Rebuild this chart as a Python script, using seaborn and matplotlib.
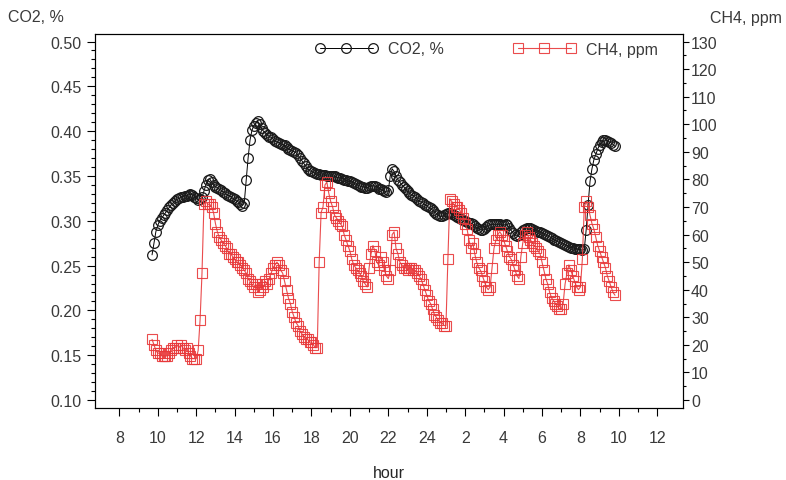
import numpy as np
import pandas as pd
import matplotlib
matplotlib.use('Agg')
import matplotlib.pyplot as plt
from matplotlib.ticker import MultipleLocator
import seaborn as sns

# sampling times (continuous hours, 24 = midnight, 26 = 2 am next day)
hours = np.round(np.arange(9.7, 33.85, 0.1), 1)

# CO2, % (one row per hour)
co2 = [
    0.262, 0.275, 0.288,
    0.295, 0.300, 0.303, 0.306, 0.309, 0.312, 0.315, 0.318, 0.320, 0.322,
    0.324, 0.325, 0.326, 0.327, 0.328, 0.328, 0.329, 0.330, 0.329, 0.327,
    0.325, 0.323, 0.324, 0.326, 0.333, 0.340, 0.346, 0.347, 0.343, 0.340,
    0.338, 0.337, 0.335, 0.334, 0.332, 0.331, 0.329, 0.328, 0.327, 0.325,
    0.324, 0.322, 0.321, 0.319, 0.317, 0.320, 0.345, 0.370, 0.390, 0.401,
    0.406, 0.409, 0.411, 0.408, 0.403, 0.400, 0.398, 0.396, 0.394, 0.393,
    0.391, 0.389, 0.388, 0.387, 0.386, 0.385, 0.384, 0.382, 0.380, 0.379,
    0.378, 0.377, 0.376, 0.373, 0.370, 0.367, 0.364, 0.361, 0.358, 0.356,
    0.355, 0.354, 0.353, 0.352, 0.352, 0.351, 0.351, 0.351, 0.350, 0.350,
    0.350, 0.350, 0.350, 0.349, 0.348, 0.348, 0.347, 0.346, 0.345, 0.344,
    0.344, 0.343, 0.342, 0.341, 0.340, 0.339, 0.338, 0.338, 0.337, 0.337,
    0.338, 0.339, 0.339, 0.339, 0.338, 0.336, 0.335, 0.334, 0.333, 0.332,
    0.334, 0.350, 0.358, 0.355, 0.350, 0.346, 0.343, 0.340, 0.338, 0.335,
    0.333, 0.331, 0.329, 0.328, 0.326, 0.324, 0.322, 0.321, 0.320, 0.318,
    0.317, 0.315, 0.314, 0.312, 0.310, 0.308, 0.306, 0.305, 0.305, 0.306,
    0.308, 0.309, 0.309, 0.308, 0.306, 0.305, 0.304, 0.303, 0.302, 0.301,
    0.300, 0.299, 0.298, 0.297, 0.296, 0.294, 0.292, 0.291, 0.290, 0.290,
    0.291, 0.293, 0.295, 0.296, 0.296, 0.296, 0.296, 0.296, 0.296, 0.295,
    0.295, 0.296, 0.295, 0.292, 0.289, 0.286, 0.284, 0.283, 0.284, 0.287,
    0.290, 0.291, 0.292, 0.292, 0.292, 0.291, 0.290, 0.289, 0.288, 0.287,
    0.286, 0.285, 0.284, 0.283, 0.282, 0.281, 0.279, 0.278, 0.277, 0.276,
    0.275, 0.274, 0.273, 0.272, 0.271, 0.270, 0.270, 0.269, 0.269, 0.268,
    0.268, 0.267, 0.268, 0.290, 0.318, 0.344, 0.358, 0.368, 0.374, 0.380,
    0.385, 0.388, 0.390, 0.390, 0.389, 0.388, 0.387, 0.385, 0.383,
]

# CH4, ppm
ch4 = [
    22, 20, 18,
    17, 17, 16, 16, 16, 16, 17, 18, 19, 19,
    20, 19, 20, 19, 18, 19, 17, 16, 15, 15,
    15, 18, 29, 46, 71, 72, 71, 71, 70, 68,
    64, 61, 59, 58, 57, 56, 55, 53, 53, 52,
    51, 50, 50, 49, 48, 47, 46, 44, 43, 42,
    41, 42, 39, 40, 42, 41, 43, 42, 44, 46,
    48, 49, 50, 49, 47, 46, 43, 40, 37, 35,
    32, 30, 28, 27, 25, 24, 23, 22, 22, 21,
    21, 20, 19, 19, 50, 68, 70, 78, 79, 75,
    72, 70, 67, 66, 65, 64, 63, 60, 58, 56,
    54, 51, 49, 48, 47, 46, 45, 43, 42, 41,
    48, 53, 56, 54, 50, 49, 52, 50, 47, 45,
    44, 47, 60, 61, 55, 53, 50, 49, 48, 48,
    47, 48, 48, 47, 47, 46, 45, 44, 42, 40,
    38, 36, 35, 33, 31, 30, 29, 28, 28, 27,
    27, 51, 73, 72, 71, 70, 70, 69, 68, 66,
    64, 62, 58, 55, 57, 53, 50, 48, 47, 45,
    43, 41, 40, 41, 48, 55, 58, 60, 61, 60,
    58, 56, 54, 52, 51, 49, 47, 45, 44, 52,
    57, 60, 61, 59, 58, 57, 56, 55, 54, 53,
    50, 47, 44, 42, 39, 37, 36, 35, 34, 33,
    33, 35, 42, 46, 49, 47, 45, 43, 41, 40,
    41, 51, 70, 72, 70, 67, 64, 62, 59, 56,
    54, 52, 50, 48, 45, 43, 41, 39, 38,
]

df = pd.DataFrame({'hour': hours, 'co2': co2, 'ch4': ch4})

xticks = list(range(8, 37, 2))
xticklabels = [str(h if h <= 24 else h - 24) for h in xticks]

sns.set_style('ticks')
plt.rcParams['font.family'] = ['Liberation Sans', 'DejaVu Sans']
plt.rcParams['text.color'] = '#3a3a3a'
plt.rcParams['xtick.color'] = 'black'
plt.rcParams['ytick.color'] = 'black'
plt.rcParams['xtick.labelcolor'] = '#3a3a3a'
plt.rcParams['ytick.labelcolor'] = '#3a3a3a'
fs = 11.5

fig = plt.figure(figsize=(7.86, 4.81), dpi=100)
ax = fig.add_axes([95 / 786, 72 / 481, 588 / 786, 374 / 481])
ax2 = ax.twinx()

red = '#e8383a'
sns.lineplot(data=df, x='hour', y='co2', ax=ax, color='black', lw=0.7,
             marker='o', markersize=7, markerfacecolor='none',
             markeredgecolor='#1a1a1a', markeredgewidth=0.9,
             label='CO2, %', legend=False)
sns.lineplot(data=df, x='hour', y='ch4', ax=ax2, color=red, lw=0.8,
             marker='s', markersize=7.5, markerfacecolor='none',
             markeredgecolor=red, markeredgewidth=0.8, alpha=0.9,
             label='CH4, ppm', legend=False)

ax.set_xlim(6.73, 37.34)
ax.set_ylim(0.0911, 0.5084)
ax2.set_ylim((0.0911 - 0.10) * 325, (0.5084 - 0.10) * 325)

ax.set_xticks(xticks)
ax.set_xticklabels(xticklabels, fontsize=fs)
ax.set_xticks(list(range(9, 36, 2)), minor=True)
ax.set_yticks(np.arange(0.10, 0.501, 0.05))
ax.set_yticklabels([f'{v:.2f}' for v in np.arange(0.10, 0.501, 0.05)], fontsize=fs)
ax.yaxis.set_minor_locator(MultipleLocator(0.01))
ax2.set_yticks(list(range(0, 131, 10)))
ax2.set_yticklabels([str(v) for v in range(0, 131, 10)], fontsize=fs)
ax2.yaxis.set_minor_locator(MultipleLocator(5))

ax.tick_params(axis='x', which='major', length=6, width=0.8, pad=10)
ax.tick_params(axis='x', which='minor', length=3, width=0.8)
ax.tick_params(axis='y', which='major', length=5.5, width=0.8, pad=4)
ax.tick_params(axis='y', which='minor', length=3, width=0.8)
ax2.tick_params(axis='y', which='major', length=4.3, width=0.8, pad=1.5)
ax2.tick_params(axis='y', which='minor', length=2.5, width=0.8)

for a in (ax, ax2):
    for s in a.spines.values():
        s.set_linewidth(0.8)
        s.set_color('black')

ax.set_xlabel('hour', fontsize=fs, labelpad=14)
ax.set_ylabel('')
ax2.set_ylabel('')

fig.text(8 / 786, 1 - 18 / 481, 'CO2, %', ha='left', va='center', fontsize=fs)
fig.text(782 / 786, 1 - 18 / 481, 'CH4, ppm', ha='right', va='center', fontsize=fs)

h1, l1 = ax.get_legend_handles_labels()
h2, l2 = ax2.get_legend_handles_labels()
ax2.legend(h1 + h2, l1 + l2, loc='center left',
           bbox_to_anchor=(315 / 786, 1 - 50 / 481), bbox_transform=fig.transFigure,
           ncol=2, frameon=False, numpoints=3, handlelength=3.9,
           handletextpad=0.7, columnspacing=4.3, borderpad=0, borderaxespad=0,
           fontsize=fs)

fig.savefig('out.png', dpi=100)
